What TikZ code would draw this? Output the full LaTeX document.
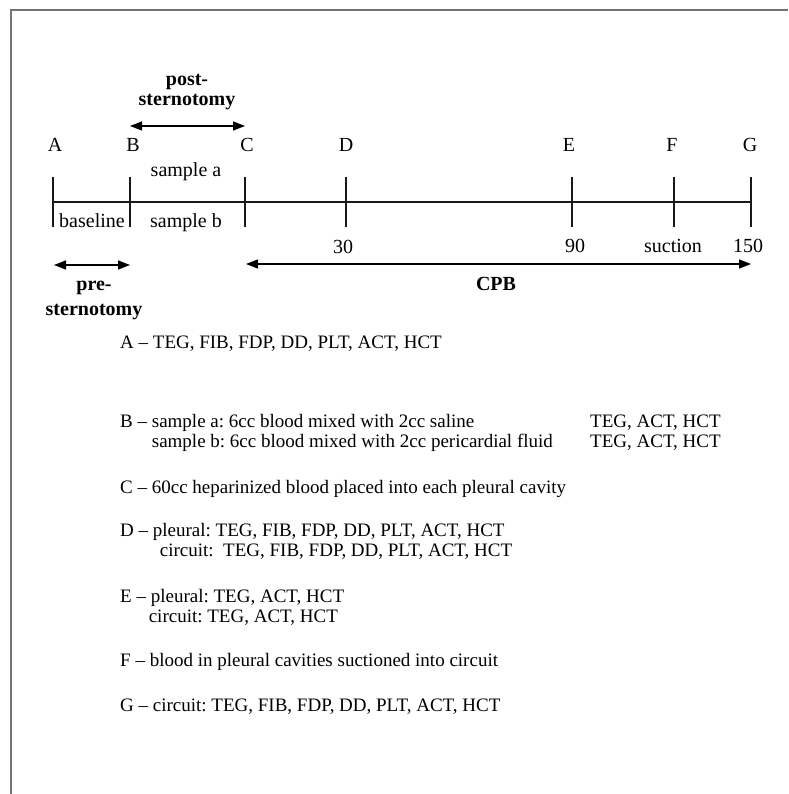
\documentclass[tikz,border=0pt]{standalone}
\usepackage{fontspec}
\setmainfont{Liberation Serif}
\usetikzlibrary{arrows.meta}
\frenchspacing
\begin{document}
\begin{tikzpicture}[x=1pt,y=-1pt,
  lbl/.style={font=\fontsize{20}{23}\selectfont, inner sep=0pt, anchor=base},
  blbl/.style={font=\bfseries, inner sep=0pt, anchor=base, align=center},
  item/.style={font=\fontsize{19}{20}\selectfont, inner sep=0pt, anchor=base west},
  tickline/.style={line width=1.2pt, draw=black!90},
  axis/.style={line width=1.2pt, draw=black!90},
  span/.style={line width=1.4pt, draw=black, {Triangle[length=12pt,width=9pt]}-{Triangle[length=12pt,width=9pt]}},
  framel/.style={line width=1.3pt, draw=black!55}]
\useasboundingbox (0,0) rectangle (788,794);
\fill[white] (0,0) rectangle (788,794);
\coordinate (fb) at (11,794);
\coordinate (fc) at (11,10);
\coordinate (fr) at (788,10);
\draw[framel] (fb) -- (fc) -- (fr);

% time point letters
\node[lbl] (A) at (55,152) {A};
\node[lbl] (B) at (133,152) {B};
\node[lbl] (C) at (247,152) {C};
\node[lbl] (D) at (346,152) {D};
\node[lbl] (E) at (569,152) {E};
\node[lbl] (F) at (672,152) {F};
\node[lbl] (G) at (750,152) {G};

% ticks and axis
\foreach \n/\x in {A/53,B/130,C/245,D/346,E/572,F/674,G/751}{
  \coordinate (t\n1) at (\x,177);
  \coordinate (t\n2) at (\x,227);
  \coordinate (m\n) at (\x,202);
  \draw[tickline] (t\n1) -- (t\n2);
}
\draw[axis] (mA) -- (mG);

% span arrows
\coordinate (pa1) at (130,126); \coordinate (pa2) at (245,126);
\draw[span] (pa1) -- (pa2);
\coordinate (pr1) at (54,265); \coordinate (pr2) at (130,265);
\draw[span] (pr1) -- (pr2);
\coordinate (cp1) at (246,264); \coordinate (cp2) at (751,264);
\draw[span] (cp1) -- (cp2);

% labels
\node[blbl, font=\fontsize{20}{20}\selectfont\bfseries] (post) at (187,106) {post-\\sternotomy};
\node[lbl] (sa) at (186,177) {sample a};
\node[lbl] (sb) at (186,227) {sample b};
\node[lbl] (bl) at (92,227) {baseline};
\node[lbl] (n30) at (343,253) {30};
\node[lbl] (n90) at (575,252) {90};
\node[lbl] (suc) at (673,252) {suction};
\node[lbl] (n150) at (748,252) {150};
\node[blbl, font=\fontsize{20}{24}\selectfont\bfseries] (cpb) at (496,290) {CPB};
\node[blbl, font=\fontsize{20}{24.5}\selectfont\bfseries] (pre) at (94,315) {pre-\\sternotomy};

% legend list
\node[item] (lA) at (120,348) {A – TEG, FIB, FDP, DD, PLT, ACT, HCT};
\node[item] (lB1) at (120,427) {B – sample a: 6cc blood mixed with 2cc saline};
\node[item] (lB2) at (120,447) {\phantom{B – }sample b: 6cc blood mixed with 2cc pericardial fluid};
\node[item] (lB3) at (590,427) {TEG, ACT, HCT};
\node[item] (lB4) at (590,447) {TEG, ACT, HCT};
\node[item] (lC) at (120,493) {C – 60cc heparinized blood placed into each pleural cavity};
\node[item] (lD1) at (120,536) {D – pleural: TEG, FIB, FDP, DD, PLT, ACT, HCT};
\node[item] (lD2) at (120,556) {\phantom{D – }\hspace{7pt}circuit:\ \ TEG, FIB, FDP, DD, PLT, ACT, HCT};
\node[item] (lE1) at (120,602) {E – pleural: TEG, ACT, HCT};
\node[item] (lE2) at (120,622) {\phantom{E – }\hspace{-2pt}circuit: TEG, ACT, HCT};
\node[item] (lF) at (120,666) {F – blood in pleural cavities suctioned into circuit};
\node[item] (lG) at (120,711) {G – circuit: TEG, FIB, FDP, DD, PLT, ACT, HCT};
\end{tikzpicture}
\end{document}
